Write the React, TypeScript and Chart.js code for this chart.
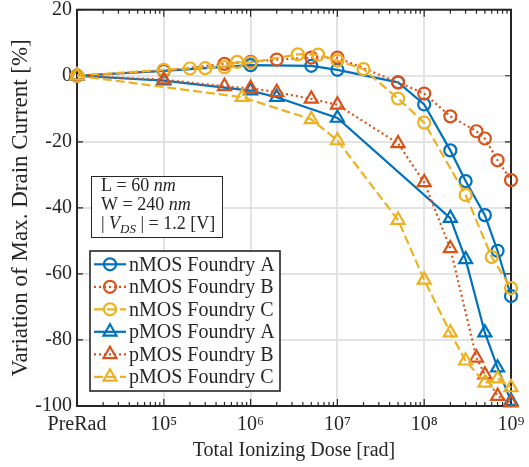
import React, { useEffect, useRef } from 'react';
import { Chart, registerables } from 'chart.js';

Chart.register(...registerables);

const PRERAD = 1e4;

const xTickValues = [1e4, 1e5, 1e6, 1e7, 1e8, 1e9];
const xTickLabels = ['PreRad', '10⁵', '10⁶', '10⁷', '10⁸', '10⁹'];
const yTickValues = [-100, -80, -60, -40, -20, 0, 20];

const seriesNames = [
  'nMOS Foundry A',
  'nMOS Foundry B',
  'nMOS Foundry C',
  'pMOS Foundry A',
  'pMOS Foundry B',
  'pMOS Foundry C',
];

const nmosADose = [PRERAD, 1e5, 1e6, 5e6, 1e7, 5e7, 1e8, 2e8, 3e8, 5e8, 7e8, 1e9];
const nmosAVar = [0, 1.5, 3.2, 3.0, 1.8, -2.0, -8.7, -22.6, -31.9, -42.2, -53.0, -66.7];

const nmosBDose = [PRERAD, 1e5, 5e5, 1e6, 2e6, 5e6, 1e7, 5e7, 1e8, 2e8, 4e8, 5e8, 7e8, 1e9];
const nmosBVar = [0, 1.5, 3.6, 4.2, 4.9, 5.5, 5.5, -2.0, -5.4, -12.3, -16.8, -19.0, -25.6, -31.6];

const nmosCDose = [PRERAD, 1e5, 2e5, 3e5, 5e5, 7e5, 1e6, 3.5e6, 6e6, 1e7, 2e7, 5e7, 1e8, 3e8, 6e8, 1e9];
const nmosCVar = [0, 1.8, 2.2, 2.3, 2.6, 4.2, 4.0, 6.5, 6.4, 4.6, 2.0, -6.9, -14.2, -36.1, -54.9, -64.3];

const pmosADose = [PRERAD, 1e5, 1e6, 2e6, 1e7, 2e8, 3e8, 5e8, 7e8, 1e9];
const pmosAVar = [0, -1.5, -4.5, -6.5, -12.8, -43.1, -55.6, -77.8, -88.4, -98.5];

const pmosBDose = [PRERAD, 1e5, 5e5, 1e6, 2e6, 5e6, 1e7, 5e7, 1e8, 2e8, 4e8, 5e8, 7e8, 1e9];
const pmosBVar = [0, -1.2, -3.2, -3.8, -5.0, -7.0, -8.8, -20.5, -32.3, -52.3, -85.4, -90.5, -97.0, -99.0];

const pmosCDose = [PRERAD, 8e5, 5e6, 1e7, 5e7, 1e8, 2e8, 3e8, 5e8, 7e8, 1e9];
const pmosCVar = [0, -6.5, -13.2, -19.6, -43.7, -61.8, -77.8, -86.3, -93.0, -91.7, -94.4];

const BLUE = '#0072BD';
const ORANGE = '#D95319';
const YELLOW = '#EDB120';
const TEXT = '#262626';
const FONT = '"Liberation Serif", "Times New Roman", serif';

const SOLID: number[] = [];
const DOTTED = [2, 3];
const DASHED = [9, 4];

function makeDataset(
  label: string,
  xs: number[],
  ys: number[],
  color: string,
  dash: number[],
  style: string,
  order: number
) {
  return {
    label,
    data: xs.map((x, i) => ({ x, y: ys[i] })),
    borderColor: color,
    backgroundColor: 'transparent',
    borderWidth: 2.2,
    borderDash: dash,
    pointStyle: style,
    pointRadius: style === 'circle' ? 6 : 7.5,
    pointHoverRadius: style === 'circle' ? 6 : 7.5,
    pointBorderColor: color,
    pointBackgroundColor: 'transparent',
    pointBorderWidth: 2.2,
    tension: 0,
    clip: false as any,
    order,
  };
}

function drawMarker(ctx: CanvasRenderingContext2D, style: string, x: number, y: number, r: number) {
  ctx.beginPath();
  if (style === 'circle') {
    ctx.arc(x, y, r, 0, Math.PI * 2);
  } else {
    ctx.moveTo(x, y - r);
    ctx.lineTo(x + r * Math.sin((2 * Math.PI) / 3), y - r * Math.cos((2 * Math.PI) / 3));
    ctx.lineTo(x + r * Math.sin((4 * Math.PI) / 3), y - r * Math.cos((4 * Math.PI) / 3));
  }
  ctx.closePath();
  ctx.stroke();
}

const framePlugin = {
  id: 'frame',
  beforeDatasetsDraw(chart: any) {
    const { ctx, chartArea } = chart;
    const { left, right, top, bottom } = chartArea;
    const xs = chart.scales.x;
    const ys = chart.scales.y;
    ctx.save();
    ctx.strokeStyle = TEXT;
    ctx.lineWidth = 1.2;
    for (let d = 4; d <= 9; d++) {
      const base = Math.pow(10, d);
      const px = xs.getPixelForValue(base);
      ctx.beginPath();
      ctx.moveTo(px, bottom);
      ctx.lineTo(px, bottom - 7);
      ctx.moveTo(px, top);
      ctx.lineTo(px, top + 7);
      ctx.stroke();
      if (d < 9) {
        for (let m = 2; m <= 9; m++) {
          const mx = xs.getPixelForValue(base * m);
          ctx.beginPath();
          ctx.moveTo(mx, bottom);
          ctx.lineTo(mx, bottom - 4);
          ctx.moveTo(mx, top);
          ctx.lineTo(mx, top + 4);
          ctx.stroke();
        }
      }
    }
    for (const v of yTickValues) {
      const py = ys.getPixelForValue(v);
      ctx.beginPath();
      ctx.moveTo(left, py);
      ctx.lineTo(left + 6, py);
      ctx.moveTo(right, py);
      ctx.lineTo(right - 6, py);
      ctx.stroke();
    }
    ctx.lineWidth = 2;
    ctx.strokeRect(left, top, right - left, bottom - top);
    ctx.restore();
  },
};

const overlayPlugin = {
  id: 'overlay',
  afterDatasetsDraw(chart: any) {
    const ctx: CanvasRenderingContext2D = chart.ctx;
    ctx.save();
    ctx.fillStyle = '#ffffff';
    ctx.fillRect(91, 176, 131, 61);
    ctx.strokeStyle = TEXT;
    ctx.lineWidth = 1;
    ctx.strokeRect(91.5, 176.5, 131, 61);
    ctx.fillStyle = TEXT;
    ctx.textBaseline = 'alphabetic';
    ctx.textAlign = 'left';
    const normal = '18px ' + FONT;
    const italic = 'italic 18px ' + FONT;
    const small = 'italic 13px ' + FONT;
    let x = 101;
    ctx.font = normal;
    ctx.fillText('L = 60 ', x, 191);
    x += ctx.measureText('L = 60 ').width;
    ctx.font = italic;
    ctx.fillText('nm', x, 191);
    x = 101;
    ctx.font = normal;
    ctx.fillText('W = 240 ', x, 210);
    x += ctx.measureText('W = 240 ').width;
    ctx.font = italic;
    ctx.fillText('nm', x, 210);
    x = 101;
    ctx.font = normal;
    ctx.fillText('| ', x, 229);
    x += ctx.measureText('| ').width;
    ctx.font = italic;
    ctx.fillText('V', x, 229);
    x += ctx.measureText('V').width;
    ctx.font = small;
    ctx.fillText('DS', x, 233);
    x += ctx.measureText('DS').width;
    ctx.font = normal;
    ctx.fillText(' | = 1.2 [V]', x, 229);

    ctx.fillStyle = '#ffffff';
    ctx.fillRect(90, 251, 190, 140);
    ctx.strokeStyle = TEXT;
    ctx.lineWidth = 1.6;
    ctx.strokeRect(90, 251, 190, 140);
    const rows = [264.3, 286.8, 309.3, 331.8, 354.3, 376.8];
    chart.data.datasets.forEach((ds: any, i: number) => {
      const y = rows[i];
      ctx.strokeStyle = ds.borderColor;
      ctx.lineWidth = ds.borderWidth;
      ctx.setLineDash(ds.borderDash);
      ctx.beginPath();
      ctx.moveTo(94, y);
      ctx.lineTo(126, y);
      ctx.stroke();
      ctx.setLineDash([]);
      drawMarker(ctx, ds.pointStyle, 110, y, ds.pointRadius);
      ctx.fillStyle = TEXT;
      ctx.font = '20px ' + FONT;
      ctx.textBaseline = 'middle';
      ctx.fillText(ds.label, 129, y + 1);
    });
    ctx.restore();
  },
};

export default function App() {
  const ref = useRef<HTMLCanvasElement>(null);
  useEffect(() => {
    document.body.style.margin = '0';
    const datasets = [
      makeDataset(seriesNames[0], nmosADose, nmosAVar, BLUE, SOLID, 'circle', 6),
      makeDataset(seriesNames[1], nmosBDose, nmosBVar, ORANGE, DOTTED, 'circle', 5),
      makeDataset(seriesNames[2], nmosCDose, nmosCVar, YELLOW, DASHED, 'circle', 4),
      makeDataset(seriesNames[3], pmosADose, pmosAVar, BLUE, SOLID, 'triangle', 3),
      makeDataset(seriesNames[4], pmosBDose, pmosBVar, ORANGE, DOTTED, 'triangle', 2),
      makeDataset(seriesNames[5], pmosCDose, pmosCVar, YELLOW, DASHED, 'triangle', 1),
    ];
    const chart = new Chart(ref.current!, {
      type: 'line',
      data: { datasets: datasets as any },
      options: {
        animation: false,
        responsive: false,
        devicePixelRatio: 1,
        layout: { padding: { top: 9, right: 18, left: 0, bottom: 0 } },
        plugins: {
          legend: { display: false },
          tooltip: { enabled: false },
        },
        scales: {
          x: {
            type: 'logarithmic',
            min: 1e4,
            max: 1e9,
            afterBuildTicks: (s: any) => {
              s.ticks = xTickValues.map((v) => ({ value: v }));
            },
            afterFit: (s: any) => {
              s.height = 61;
              s.paddingLeft = 0;
              s.paddingRight = 0;
              s.paddingTop = 0;
              s.paddingBottom = 0;
            },
            ticks: {
              autoSkip: false,
              maxRotation: 0,
              minRotation: 0,
              padding: 7,
              color: TEXT,
              font: { family: FONT, size: 20 },
              callback: (_v: any, i: number) => xTickLabels[i],
            },
            grid: { color: '#e3e3e3', lineWidth: 2, drawTicks: false },
            border: { display: false },
            title: {
              display: true,
              text: 'Total Ionizing Dose [rad]',
              color: TEXT,
              font: { family: FONT, size: 20 },
              padding: { top: 0, bottom: 4 },
            },
          },
          y: {
            type: 'linear',
            min: -100,
            max: 20,
            afterBuildTicks: (s: any) => {
              s.ticks = yTickValues.map((v) => ({ value: v }));
            },
            afterFit: (s: any) => {
              s.width = 77;
              s.paddingLeft = 0;
              s.paddingRight = 0;
              s.paddingTop = 0;
              s.paddingBottom = 0;
            },
            ticks: {
              padding: 5,
              color: TEXT,
              font: { family: FONT, size: 20 },
              callback: (v: any) => String(v),
            },
            grid: { color: '#e3e3e3', lineWidth: 2, drawTicks: false },
            border: { display: false },
            title: {
              display: true,
              text: 'Variation of Max. Drain Current [%]',
              color: TEXT,
              font: { family: FONT, size: 23 },
              padding: { top: 7, bottom: 0 },
            },
          },
        },
      },
      plugins: [framePlugin, overlayPlugin],
    });
    return () => chart.destroy();
  }, []);
  return (
    <div style={{ width: 529, height: 467 }}>
      <canvas ref={ref} width={529} height={467} style={{ display: 'block' }} />
    </div>
  );
}
